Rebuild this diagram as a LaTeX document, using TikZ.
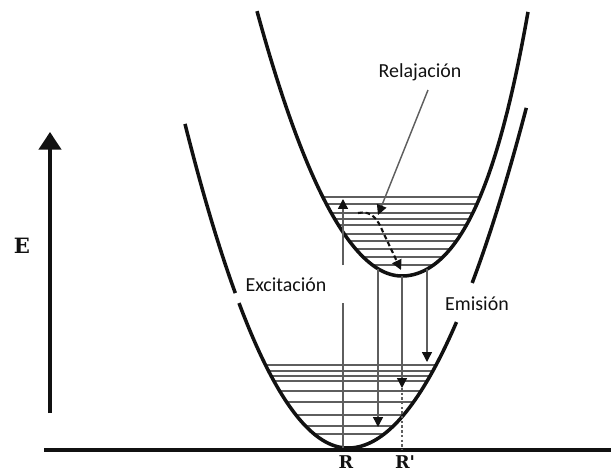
\documentclass[tikz,border=0pt]{standalone}
\usepackage{fontspec}
\newfontfamily\labelfont{Carlito}
\newfontfamily\axisfont{DejaVu Serif}
\usetikzlibrary{arrows.meta}
\definecolor{Ink}{HTML}{111111}
\definecolor{Level}{HTML}{5E5E5E}
\tikzset{
  curve/.style={line width=3pt, color=Ink},
  level/.style={line width=1.2pt, color=Level},
  trans/.style={line width=1.2pt, color=Level, -{Triangle[width=8.5pt,length=8.5pt,color=Ink]}},
  lab/.style={font=\labelfont\fontsize{17}{20}\selectfont, anchor=base, color=Ink, inner sep=0pt},
  axlab/.style={font=\axisfont\bfseries\fontsize{15}{17}\selectfont, color=Ink, inner sep=0pt}
}

\begin{document}
\begin{tikzpicture}[x=0.03cm, y=-0.03cm, >=Latex, samples=80]
    \useasboundingbox (0,0) rectangle (611,472);
    \begin{scope}
      \clip plot[domain=145:0] ({402-\x},{276-(0.11225*\x)^2}) -- plot[domain=0:126] ({402+\x},{276-(0.10354*\x)^2-(0.0247*\x)^4}) -- cycle;
      \foreach \y in {197,204,213,219,225,234,241,249,257,265}
        \draw[level] (250,\y) -- (560,\y);
    \end{scope}
    \begin{scope}
      \clip plot[domain=164:0] ({348-\x},{448-(0.11045*\x)^2}) -- plot[domain=0:179] ({348+\x},{448-(0.10344*\x)^2}) -- cycle;
      \foreach \y in {365,371,376,381,391,402,415,426,434}
        \draw[level] (200,\y) -- (560,\y);
    \end{scope}
    \draw[curve] plot[domain=163:112.7] ({348-\x},{448-(0.11045*\x)^2});
    \draw[curve] plot[domain=109:0] ({348-\x},{448-(0.11045*\x)^2}) -- plot[domain=0:108.5] ({348+\x},{448-(0.10344*\x)^2});
    \draw[curve] plot[domain=124.2:178.3] ({348+\x},{448-(0.10344*\x)^2});
    \draw[curve] plot[domain=145:0] ({402-\x},{276-(0.11225*\x)^2}) -- plot[domain=0:126] ({402+\x},{276-(0.10354*\x)^2-(0.0247*\x)^4});
    \coordinate (base-l) at (44,450);
    \coordinate (base-r) at (611,450);
    \draw[curve] (base-l) -- (base-r);
    \coordinate (e-foot) at (50,413);
    \coordinate (e-tip) at (50,132);
    \draw[curve, -{Triangle[width=19pt,length=15pt]}] (e-foot) -- (e-tip);
    \node[axlab, font=\axisfont\bfseries\fontsize{18}{20}\selectfont] (E) at (22,246) {E};
    \node[axlab, anchor=base] (R) at (346,468) {R};
    \node[axlab, anchor=base] (Rp) at (405,468) {R'};
    \node[lab] (relax-lab) at (420,77) {Relajación};
    \node[lab] (exc-lab) at (286,291) {Excitación};
    \node[lab] (emi-lab) at (477,310) {Emisión};
    \coordinate (exc-foot) at (343,448);
    \coordinate (exc-lo) at (343,303);
    \coordinate (exc-hi) at (343,265);
    \coordinate (exc-tip) at (343,199);
    \draw[level] (exc-foot) -- (exc-lo);
    \draw[trans] (exc-hi) -- (exc-tip);
    \foreach \name/\x/\ya/\yb in {a/378/269/427, b/402/276/388, c/427/269/362} {
      \coordinate (emi-\name-top) at (\x,\ya);
      \coordinate (emi-\name-tip) at (\x,\yb);
      \draw[trans] (emi-\name-top) -- (emi-\name-tip);
    }
    \coordinate (rp-foot) at (402,450);
    \draw[level, dash pattern=on 2pt off 2pt] (emi-b-tip) -- (rp-foot);
    \coordinate (rel-start) at (358,213);
    \coordinate (rel-end) at (401,270);
    \draw[line width=1.8pt, color=Ink, dash pattern=on 4pt off 2.5pt, -{Triangle[width=8.5pt,length=8.5pt]}]
      (rel-start) .. controls (372,210) and (378,220) .. (383,232) -- (rel-end);
    \coordinate (rel-from) at (428,90);
    \coordinate (rel-to) at (378,215);
    \draw[trans] (rel-from) -- (rel-to);
  \end{tikzpicture}
\end{document}
